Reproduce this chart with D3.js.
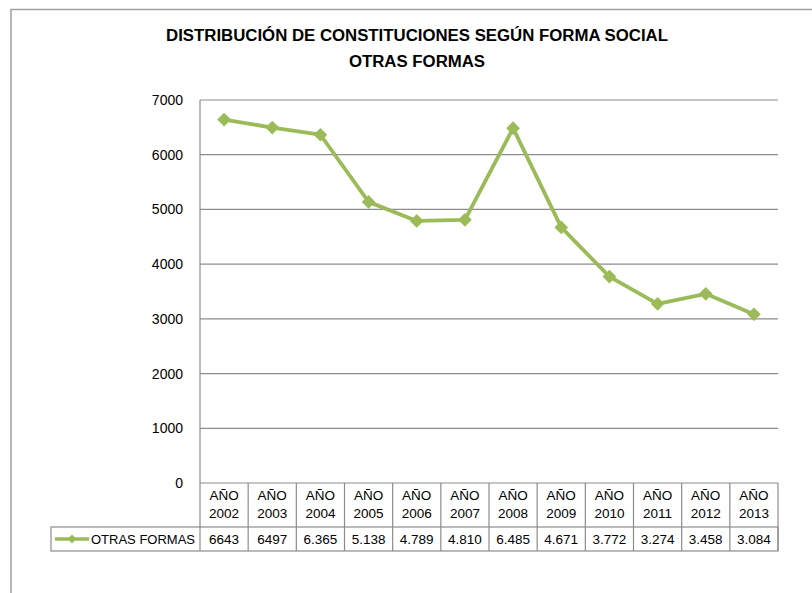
<!DOCTYPE html>
<html lang="es">
<head>
<meta charset="UTF-8">
<title>Otras formas</title>
<script src="https://d3js.org/d3.v7.min.js"></script>
<style>
  body { margin: 0; background: #fff; }
  svg text { font-family: "Liberation Sans", Arial, sans-serif; fill: #000; }
</style>
</head>
<body>
<div id="chart"></div>
<script>
// datos
var anios = ["2002", "2003", "2004", "2005", "2006", "2007", "2008", "2009", "2010", "2011", "2012", "2013"];
var valores = [6643, 6497, 6365, 5138, 4789, 4810, 6485, 4671, 3772, 3274, 3458, 3084];
var etiquetasTabla = ["6643", "6497", "6.365", "5.138", "4.789", "4.810", "6.485", "4.671", "3.772", "3.274", "3.458", "3.084"];
var ticksY = [0, 1000, 2000, 3000, 4000, 5000, 6000, 7000];
var serie = "OTRAS FORMAS";
var titulo = ["DISTRIBUCIÓN DE CONSTITUCIONES SEGÚN FORMA SOCIAL", "OTRAS FORMAS"];

var W = 812, H = 593;
var verde = "#9bbb59", gris = "#8c8c8c";
var plot = {left: 200, right: 778, top: 100, bottom: 483};
var filaDatosTop = 527, filaDatosBottom = 551, leyendaLeft = 51;

var svg = d3.select("#chart").append("svg")
  .attr("width", W).attr("height", H);

// marco exterior
svg.append("path")
  .attr("d", "M11," + H + "V9.5H" + W)
  .attr("fill", "none").attr("stroke", "#a0a0a0").attr("stroke-width", 1.5);

// titulo
svg.selectAll(".titulo").data(titulo).enter().append("text")
  .attr("class", "titulo")
  .attr("x", 417).attr("y", function(d, i) { return 41 + i * 26; })
  .attr("text-anchor", "middle")
  .style("font-weight", "bold").style("font-size", "16.8px")
  .text(function(d) { return d; });

var x = d3.scaleBand().domain(anios).range([plot.left, plot.right]);
var y = d3.scaleLinear().domain([0, 7000]).range([plot.bottom, plot.top]);

// lineas de division
svg.append("g").selectAll("line").data(ticksY.filter(function(d) { return d > 0; })).enter()
  .append("line")
  .attr("x1", plot.left).attr("x2", plot.right)
  .attr("y1", function(d) { return y(d); }).attr("y2", function(d) { return y(d); })
  .attr("stroke", gris).attr("stroke-width", 1.2);

// eje y
var ejeY = svg.append("g")
  .attr("transform", "translate(" + plot.left + ",0)")
  .call(d3.axisLeft(y).tickValues(ticksY).tickSize(0).tickPadding(17).tickFormat(d3.format("d")));
ejeY.select(".domain").remove();
ejeY.selectAll("text").style("font-size", "14px").style("font-family", "Liberation Sans, Arial, sans-serif");
svg.append("line")
  .attr("x1", plot.left).attr("x2", plot.left)
  .attr("y1", plot.top).attr("y2", filaDatosBottom)
  .attr("stroke", gris).attr("stroke-width", 1.2);

// tabla de datos
var tabla = svg.append("g");
tabla.append("line")
  .attr("x1", plot.left).attr("x2", plot.right)
  .attr("y1", plot.bottom).attr("y2", plot.bottom)
  .attr("stroke", gris).attr("stroke-width", 1.2);
tabla.append("rect")
  .attr("x", leyendaLeft).attr("y", filaDatosTop)
  .attr("width", plot.right - leyendaLeft).attr("height", filaDatosBottom - filaDatosTop)
  .attr("fill", "none").attr("stroke", gris).attr("stroke-width", 1.2);
tabla.selectAll(".sep").data(anios).enter().append("line")
  .attr("class", "sep")
  .attr("x1", function(d) { return x(d) + x.bandwidth(); })
  .attr("x2", function(d) { return x(d) + x.bandwidth(); })
  .attr("y1", plot.bottom).attr("y2", filaDatosBottom)
  .attr("stroke", gris).attr("stroke-width", 1.2);

var cab = tabla.selectAll(".cab").data(anios).enter().append("text")
  .attr("class", "cab")
  .attr("text-anchor", "middle")
  .style("font-size", "13.5px");
cab.append("tspan")
  .attr("x", function(d) { return x(d) + x.bandwidth() / 2; })
  .attr("y", 500).text("AÑO");
cab.append("tspan")
  .attr("x", function(d) { return x(d) + x.bandwidth() / 2; })
  .attr("y", 518).text(function(d) { return d; });

tabla.selectAll(".val").data(etiquetasTabla).enter().append("text")
  .attr("class", "val")
  .attr("x", function(d, i) { return x(anios[i]) + x.bandwidth() / 2; })
  .attr("y", 544)
  .attr("text-anchor", "middle")
  .style("font-size", "13.5px")
  .text(function(d) { return d; });

// leyenda dentro de la tabla
var diamante = d3.symbol().type(d3.symbolDiamond2);
tabla.append("line")
  .attr("x1", 55).attr("x2", 89).attr("y1", 539).attr("y2", 539)
  .attr("stroke", verde).attr("stroke-width", 3.5);
tabla.append("path")
  .attr("d", diamante.size(50)())
  .attr("transform", "translate(72,539)")
  .attr("fill", verde);
tabla.append("text")
  .attr("x", 91).attr("y", 544)
  .attr("textLength", 104).attr("lengthAdjust", "spacingAndGlyphs")
  .style("font-size", "13.5px")
  .text(serie);

// serie
var linea = d3.line()
  .x(function(d, i) { return x(anios[i]) + x.bandwidth() / 2; })
  .y(function(d) { return y(d); });
svg.append("path")
  .datum(valores)
  .attr("d", linea)
  .attr("fill", "none").attr("stroke", verde).attr("stroke-width", 3.8)
  .attr("stroke-linejoin", "round");
svg.selectAll(".punto").data(valores).enter().append("path")
  .attr("class", "punto")
  .attr("d", diamante.size(120)())
  .attr("transform", function(d, i) {
    return "translate(" + (x(anios[i]) + x.bandwidth() / 2) + "," + y(d) + ")";
  })
  .attr("fill", verde);
</script>
</body>
</html>
